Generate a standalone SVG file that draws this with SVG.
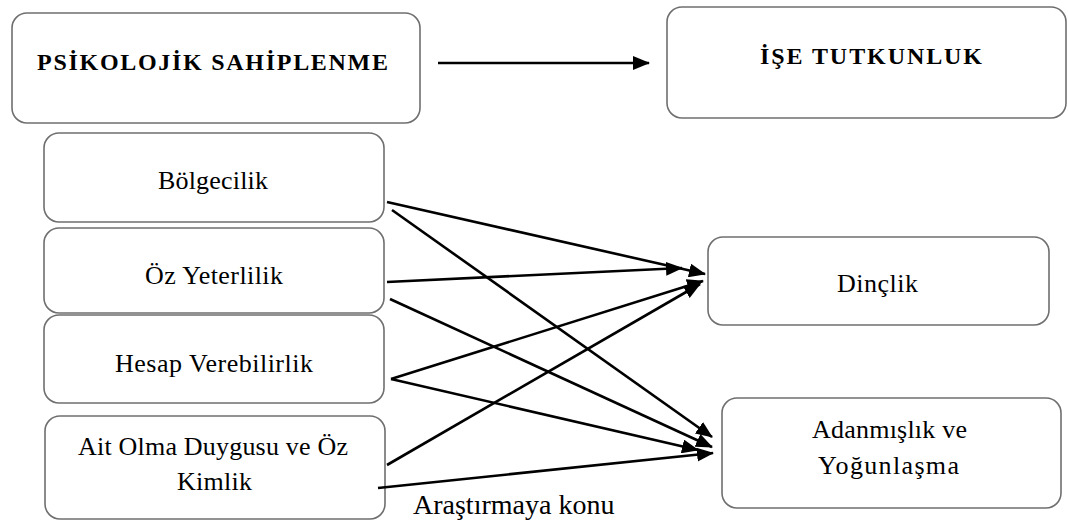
<svg xmlns="http://www.w3.org/2000/svg" width="1068" height="521" viewBox="0 0 1068 521">
<style>
.box{fill:#fff;stroke:#6f6f6f;stroke-width:1.6}
.t{font-family:"Liberation Serif","Times New Roman",serif;font-size:26px;fill:#000;text-anchor:start}
.b{font-weight:bold;font-size:24px}
.c{stroke:#000;stroke-width:2.6;fill:none;marker-end:url(#ah)}
</style>
<defs>
<marker id="ah" viewBox="0 0 17 14" refX="16" refY="7" markerWidth="17" markerHeight="14" orient="auto" markerUnits="userSpaceOnUse">
<path d="M0,0 L17,7 L0,14 Z" fill="#000"/>
</marker>
</defs>
<rect width="1068" height="521" fill="#fff"/>
<g id="n-psikolojik">
<rect class="box" x="12" y="13" width="408" height="110" rx="15"/>
<text class="t b" x="37" y="70" textLength="351" lengthAdjust="spacing">PSİKOLOJİK SAHİPLENME</text>
</g>
<g id="n-ise">
<rect class="box" x="667" y="7" width="399" height="111" rx="15"/>
<text class="t b" x="760" y="64" textLength="222" lengthAdjust="spacing">İŞE TUTKUNLUK</text>
</g>
<g id="n-bolgecilik">
<rect class="box" x="44" y="133" width="340" height="89" rx="15"/>
<text class="t" x="158" y="189" textLength="110" lengthAdjust="spacing">Bölgecilik</text>
</g>
<g id="n-ozyeterlilik">
<rect class="box" x="44" y="228" width="340" height="85" rx="15"/>
<text class="t" x="145" y="284" textLength="138" lengthAdjust="spacing">Öz Yeterlilik</text>
</g>
<g id="n-hesap">
<rect class="box" x="44" y="315" width="340" height="88" rx="15"/>
<text class="t" x="115" y="372" textLength="198" lengthAdjust="spacing">Hesap Verebilirlik</text>
</g>
<g id="n-ait">
<rect class="box" x="45" y="416" width="340" height="103" rx="15"/>
<text class="t" x="78" y="455" textLength="270" lengthAdjust="spacing">Ait Olma Duygusu ve Öz</text>
<text class="t" x="177" y="490" textLength="75" lengthAdjust="spacing">Kimlik</text>
</g>
<g id="n-dinclik">
<rect class="box" x="708" y="237" width="341" height="88" rx="15"/>
<text class="t" x="837" y="292" textLength="81" lengthAdjust="spacing">Dinçlik</text>
</g>
<g id="n-adanmislik">
<rect class="box" x="722" y="398" width="339" height="110" rx="15"/>
<text class="t" x="812" y="438" textLength="155" lengthAdjust="spacing">Adanmışlık ve</text>
<text class="t" x="818" y="474" textLength="141" lengthAdjust="spacing">Yoğunlaşma</text>
</g>
<g id="connectors">
<line class="c" x1="438" y1="63" x2="649" y2="63"/>
<line class="c" x1="387" y1="202" x2="705" y2="274"/>
<line class="c" x1="392" y1="210" x2="712" y2="437"/>
<line class="c" x1="387" y1="282" x2="682" y2="268"/>
<line class="c" x1="390" y1="299" x2="712" y2="447"/>
<line class="c" x1="391" y1="379" x2="703" y2="281"/>
<line class="c" x1="391" y1="379" x2="698" y2="450"/>
<line class="c" x1="387" y1="465" x2="700" y2="284"/>
<line class="c" x1="378" y1="488" x2="713" y2="453"/>
</g>
<text class="t" x="413" y="514" style="font-size:28px">Araştırmaya konu</text>
</svg>
